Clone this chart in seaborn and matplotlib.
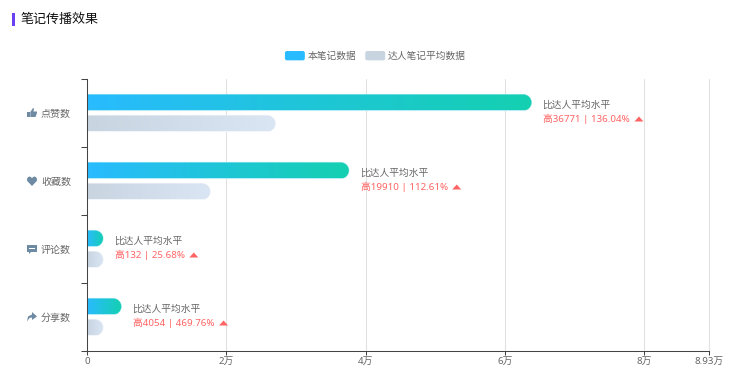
import numpy as np
import pandas as pd
import matplotlib
matplotlib.use('Agg')
import matplotlib.pyplot as plt
import seaborn as sns
from matplotlib.colors import LinearSegmentedColormap
from matplotlib.legend_handler import HandlerPatch
from matplotlib.patches import FancyBboxPatch, Patch, PathPatch, Rectangle
from matplotlib.path import Path
from matplotlib.transforms import IdentityTransform

# 数据
categories = ['点赞数', '收藏数', '评论数', '分享数']
series_names = ['本笔记数据', '达人笔记平均数据']
note_values = [63801, 37590, 646, 4917]
avg_values = [27030, 17680, 514, 863]
diff_labels = ['高36771 | 136.04%', '高19910 | 112.61%', '高132 | 25.68%', '高4054 | 469.76%']
x_ticks = [0, 20000, 40000, 60000, 80000, 89300]
x_tick_labels = ['0', '2万', '4万', '6万', '8万', '8.93万']

# 太小的柱子按最小长度显示
MIN_BAR = 2300
W, H = 737, 381
GRAY = '#666666'
RED = '#FF6464'
ICON = '#6F8AA3'

sns.set_style('white')
plt.rcParams['font.family'] = ['Noto Sans', 'Noto Sans CJK SC', 'DejaVu Sans']

df = pd.DataFrame({
    'category': categories * 2,
    'series': [series_names[0]] * 4 + [series_names[1]] * 4,
    'value': note_values + avg_values,
})
df['shown'] = df['value'].clip(lower=MIN_BAR)

fig = plt.figure(figsize=(W / 100, H / 100), dpi=100)
ax = fig.add_axes([87 / W, (H - 351) / H, 622 / W, 272 / H])

sns.barplot(data=df, y='category', x='shown', hue='series', orient='h',
            width=0.618, gap=0.24, legend=False, ax=ax, palette=['#29BBFF', '#C8D4E0'])

ax.set_xlim(0, x_ticks[-1])
ax.set_ylim(3.5, -0.5)
ax.set_xlabel('')
ax.set_ylabel('')

# 坐标轴
sns.despine(ax=ax)
for side in ['left', 'bottom']:
    ax.spines[side].set_color('#444444')
    ax.spines[side].set_linewidth(0.75)
ax.set_axisbelow(True)
ax.set_xticks(x_ticks, x_tick_labels)
ax.grid(axis='x', color='#E0E0E0', linewidth=0.75)
ax.grid(axis='y', visible=False)
for line in ax.get_xgridlines():
    line.set_clip_on(False)
ax.tick_params(axis='x', length=3, width=0.75, color='#444444', labelcolor=GRAY, labelsize=7, pad=1, bottom=True)
ax.set_yticks([-0.5, 0.5, 1.5, 2.5, 3.5], [''] * 5)
ax.set_yticks([0, 1, 2, 3], categories, minor=True)
ax.tick_params(axis='y', which='major', length=4, width=0.75, color='#444444', left=True)
ax.tick_params(axis='y', which='minor', length=0, pad=11.5, labelcolor=GRAY, labelsize=7.2)


def pill_path(x0, x1, y0, y1):
    # 左边平，右边圆头（像素坐标）
    r = (y1 - y0) / 2
    k = 0.5523 * r
    cx = x1 - r
    verts = [(x0, y0), (cx, y0),
             (cx + k, y0), (x1, y1 - r - k), (x1, y0 + r),
             (x1, y0 + r + k), (cx + k, y1), (cx, y1),
             (x0, y1), (x0, y0)]
    codes = [Path.MOVETO, Path.LINETO,
             Path.CURVE4, Path.CURVE4, Path.CURVE4,
             Path.CURVE4, Path.CURVE4, Path.CURVE4,
             Path.LINETO, Path.CLOSEPOLY]
    return Path(verts, codes)


# 把柱子换成渐变
gradients = [(['#29BBFF', '#14D0B0'], '#B5ECF7'), (['#C8D4E0', '#DAE6F4'], '#F2F5FA')]
ends = []
for container, (colors, halo) in zip(ax.containers, gradients):
    cmap = LinearSegmentedColormap.from_list('bar', colors)
    row_ends = []
    for bar in container:
        bbox = bar.get_window_extent()
        path = pill_path(bbox.x0, bbox.x1, bbox.y0, bbox.y1)
        bar.set_visible(False)
        ax.add_patch(PathPatch(path, transform=IdentityTransform(), facecolor='none',
                               edgecolor=halo, linewidth=0.8, zorder=1.9))
        img = ax.imshow(np.linspace(0, 1, 256).reshape(1, -1), cmap=cmap, aspect='auto',
                        extent=[bar.get_x(), bar.get_x() + bar.get_width(),
                                bar.get_y() + bar.get_height(), bar.get_y()], zorder=2)
        img.set_clip_path(path, IdentityTransform())
        row_ends.append(bar.get_x() + bar.get_width())
    ends.append(row_ends)

ax.set_xlim(0, x_ticks[-1])
ax.set_ylim(3.5, -0.5)

# 右侧说明文字
fig.canvas.draw()
renderer = fig.canvas.get_renderer()
for i, label in enumerate(diff_labels):
    ax.annotate('比达人平均水平', xy=(ends[0][i], i), xytext=(8.0, 5.4), textcoords='offset points',
                fontsize=7, color=GRAY, va='center', ha='left')
    red = ax.annotate(label, xy=(ends[0][i], i), xytext=(8.5, -4.3), textcoords='offset points',
                      fontsize=7, color=RED, va='center', ha='left')
    box = red.get_window_extent(renderer)
    fig.add_artist(PathPatch(
        Path([(box.x1 + 4.5, H - 121.5 - 68 * i), (box.x1 + 13.5, H - 121.5 - 68 * i),
              (box.x1 + 9, H - 116.5 - 68 * i), (box.x1 + 4.5, H - 121.5 - 68 * i)], closed=True),
        transform=IdentityTransform(), facecolor=RED, edgecolor='none'))


# 标题
fig.text(21 / W, 1 - 19 / H, '笔记传播效果', fontsize=9.4, color='#111111', va='center', ha='left')
fig.add_artist(Rectangle((12, H - 26), 3, 13, transform=IdentityTransform(), facecolor='#6B40F0', edgecolor='none'))


# 图例
class RoundHandler(HandlerPatch):
    def create_artists(self, legend, orig_handle, xdescent, ydescent, width, height, fontsize, trans):
        p = FancyBboxPatch((-xdescent + 1.5, -ydescent + 1.5), width - 3, height - 3,
                           boxstyle='round,pad=1.5', facecolor=orig_handle.get_facecolor(),
                           edgecolor='none', transform=trans)
        return [p]


handles = [Patch(facecolor='#29BBFF', label=series_names[0]), Patch(facecolor='#C8D4E0', label=series_names[1])]
fig.legend(handles=handles, loc='center', bbox_to_anchor=(375.5 / W, 1 - 56 / H), ncol=2, frameon=False,
           fontsize=7, labelcolor=GRAY, handlelength=2.05, handleheight=1.1, handletextpad=0.3,
           columnspacing=0.9, handler_map={Patch: RoundHandler()})


# 类别图标
def icon(verts, y, color=ICON):
    shifted = [(x, H - (y + dy)) for x, dy in verts]
    fig.add_artist(PathPatch(Path(shifted, closed=True), transform=IdentityTransform(),
                             facecolor=color, edgecolor='none'))


# 点赞
icon([(27, -1), (29.5, -1), (29.5, 4), (27, 4), (27, -1)], 113)
icon([(30.3, -1), (33, -5), (34, -4.5), (33.5, -1.5), (37, -1.5), (37, 0), (35.5, 4), (30.3, 4), (30.3, -1)], 113)
# 收藏
icon([(32, 5), (27.2, 0), (27, -2), (28, -4), (30, -4.5), (32, -3), (34, -4.5), (36, -4), (37, -2), (36.8, 0), (32, 5)], 181)
# 评论
icon([(27, -4), (37, -4), (37, 3), (31, 3), (29, 5), (29, 3), (27, 3), (27, -4)], 249)
icon([(29, -1), (35, -1), (35, 0), (29, 0), (29, -1)], 249, color='#FFFFFF')
# 分享
icon([(32, -5), (37, -0.5), (32, 3), (32, 0.5), (29.5, 1), (27, 4.5), (28, -0.5), (32, -2.5), (32, -5)], 317)

fig.savefig('out.png')
